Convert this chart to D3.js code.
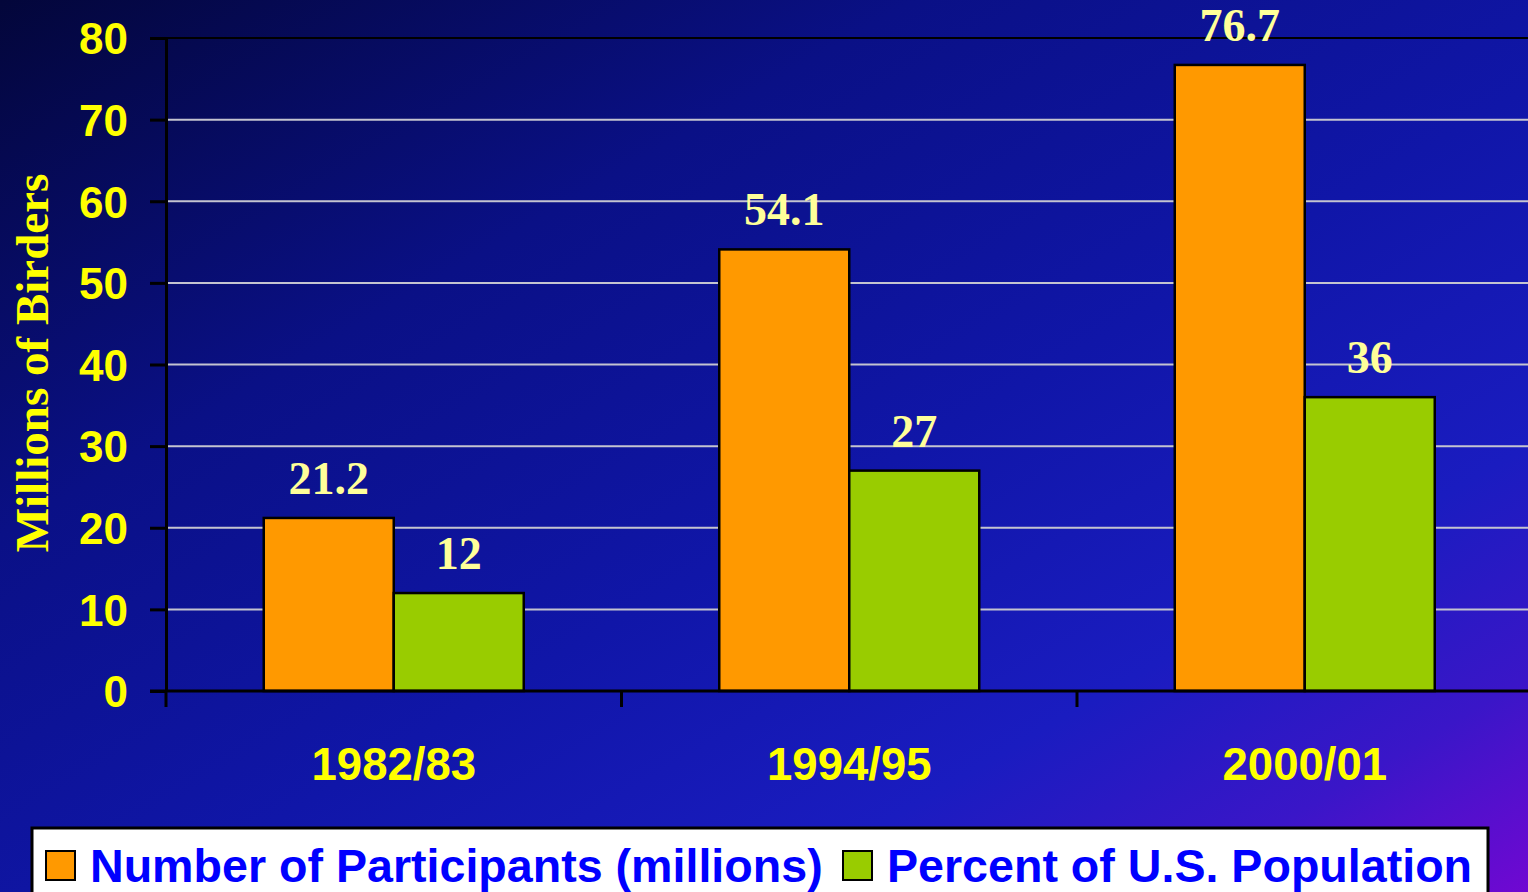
<!DOCTYPE html>
<html><head><meta charset="utf-8">
<script src="https://cdn.jsdelivr.net/npm/d3@7"></script>
<style>html,body{margin:0;padding:0;overflow:hidden;background:#0a0f80}</style>
</head><body>
<svg id="chart" width="1528" height="892"></svg>
<script>
const categories = ["1982/83", "1994/95", "2000/01"];
const participants = [21.2, 54.1, 76.7];
const percentPop = [12, 27, 36];
const seriesNames = ["Number of Participants (millions)", "Percent of U.S. Population"];
const yTicks = [0, 10, 20, 30, 40, 50, 60, 70, 80];
const yTitle = "Millions of Birders";

const svg = d3.select("#chart");
const W = 1528, H = 892;
const defs = svg.append("defs");
const grad = defs.append("linearGradient").attr("id","bg")
  .attr("x1","0").attr("y1","0").attr("x2","1").attr("y2","1");
[[0,"#03063a"],[0.3,"#0a1086"],[0.55,"#1016a8"],[0.75,"#1a1cc0"],[0.88,"#3a16c8"],[1,"#7008d2"]]
  .forEach(([o,c])=>grad.append("stop").attr("offset",o).attr("stop-color",c));
svg.append("rect").attr("width",W).attr("height",H).attr("fill","url(#bg)");

const x0 = 166, catW = 455.5;
const x = d3.scaleBand().domain(categories).range([x0, x0 + catW*3]).paddingInner(0).paddingOuter(0);
const y = d3.scaleLinear().domain([0,80]).range([691, 38]);
const inner = d3.scaleBand().domain([0,1]).range([0, 260]);

// gridlines
svg.append("g").selectAll("line").data(yTicks.filter(d=>d>0)).join("line")
  .attr("x1", x0).attr("x2", W).attr("y1", d=>y(d)).attr("y2", d=>y(d))
  .attr("stroke", d=>d===80?"#000":"#c4c4d0").attr("stroke-width", 2);

// bars
const series = [participants, percentPop];
const colors = ["#ff9900", "#99cc00"];
const g = svg.append("g");
categories.forEach((c,i)=>{
  const gx = x(c) + (x.bandwidth()-260)/2;
  series.forEach((s,j)=>{
    g.append("rect").attr("x", gx + inner(j)).attr("y", y(s[i]))
      .attr("width", inner.bandwidth()).attr("height", y(0)-y(s[i]))
      .attr("fill", colors[j]).attr("stroke","#000").attr("stroke-width",2.5);
    g.append("text").attr("x", gx + inner(j) + inner.bandwidth()/2).attr("y", y(s[i]) - 24)
      .attr("text-anchor","middle").attr("fill","#ffff99")
      .attr("font-family","'Liberation Serif', 'Times New Roman', serif").attr("font-weight","bold")
      .attr("font-size", 46).text(s[i]);
  });
});

// y axis
const yAxis = d3.axisLeft(y).tickValues(yTicks).tickSize(16).tickSizeOuter(0).tickPadding(22);
const ya = svg.append("g").attr("transform",`translate(${x0},0)`).call(yAxis);
ya.select(".domain").attr("stroke","#000").attr("stroke-width",3);
ya.selectAll(".tick line").attr("stroke","#000").attr("stroke-width",3);
ya.selectAll(".tick text").attr("fill","#ffff00").attr("font-family","'Liberation Sans', Arial, sans-serif")
  .attr("font-weight","bold").attr("font-size",44).attr("dy","0.36em");

// x axis
const xa = svg.append("g").attr("transform",`translate(0,${y(0)})`)
  .call(d3.axisBottom(x).tickSize(0).tickSizeOuter(0).tickPadding(0));
xa.select(".domain").remove();
xa.append("line").attr("x1", x0-16).attr("x2", W).attr("y1",0).attr("y2",0).attr("stroke","#000").attr("stroke-width",3);
xa.selectAll(".tick text").attr("fill","#ffff00").attr("font-family","'Liberation Sans', Arial, sans-serif")
  .attr("font-weight","bold").attr("font-size",45.5).attr("dy",0).attr("y",89);
const bounds = [0,1,2].map(i=>x(categories[i]));
xa.selectAll(".bt").data(bounds).join("line").attr("class","bt")
  .attr("x1",d=>d).attr("x2",d=>d).attr("y1",0).attr("y2",16).attr("stroke","#000").attr("stroke-width",3);

// y title
svg.append("text").attr("transform","translate(48,363) rotate(-90)").attr("text-anchor","middle")
  .attr("fill","#ffff00").attr("font-family","'Liberation Serif', 'Times New Roman', serif")
  .attr("font-weight","bold").attr("font-size",47).text(yTitle);

// legend
const lg = svg.append("g");
lg.append("rect").attr("x",32).attr("y",828).attr("width",1456).attr("height",80)
  .attr("fill","#fff").attr("stroke","#000").attr("stroke-width",3);
const legX = [46, 843];
seriesNames.forEach((n,j)=>{
  lg.append("rect").attr("x",legX[j]).attr("y",851).attr("width",29).attr("height",29)
    .attr("fill",colors[j]).attr("stroke","#000").attr("stroke-width",2);
  lg.append("text").attr("x",legX[j]+44).attr("y",882).attr("fill","#0000ff")
    .attr("font-family","'Liberation Sans', Arial, sans-serif").attr("font-weight","bold")
    .attr("font-size",46.6).text(n);
});
</script>
</body></html>
